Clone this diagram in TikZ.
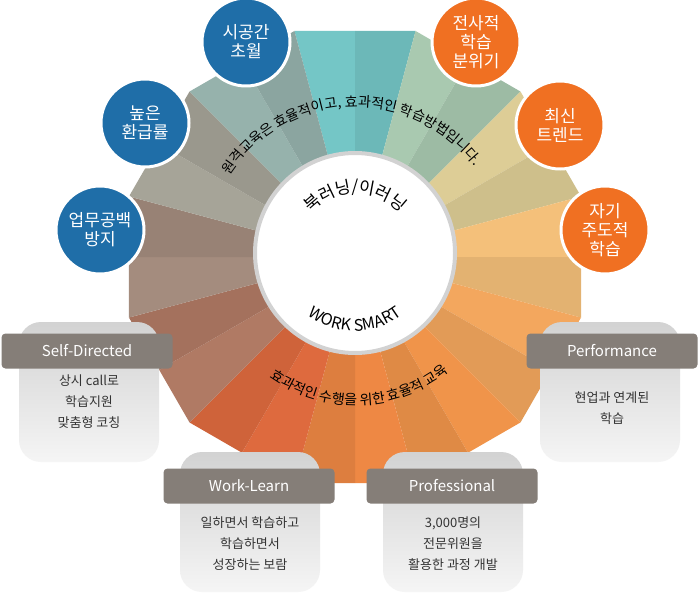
\documentclass[tikz,border=0pt]{standalone}
\usepackage{fontspec}
\setmainfont{Noto Sans CJK KR}
\usetikzlibrary{decorations.text,shadings,calc}
\definecolor{s0}{HTML}{74C6C6}
\definecolor{s1}{HTML}{A9C9B0}
\definecolor{s2}{HTML}{DDCD96}
\definecolor{s3}{HTML}{F4C07A}
\definecolor{s4}{HTML}{F3A75E}
\definecolor{s5}{HTML}{F0944A}
\definecolor{s6}{HTML}{EE8844}
\definecolor{s7}{HTML}{DE6A3E}
\definecolor{s8}{HTML}{B07A64}
\definecolor{s9}{HTML}{A48C7E}
\definecolor{s10}{HTML}{A6A498}
\definecolor{s11}{HTML}{96B2AC}
\definecolor{cblue}{HTML}{1F6EA8}
\definecolor{corange}{HTML}{F07022}
\definecolor{hdr}{HTML}{857E78}
\tikzset{
  bc/.style={circle,fill=cblue,draw=white,line width=3pt,minimum size=88pt,inner sep=0pt,align=center,text=white,font=\fontsize{17}{19}\selectfont},
  oc/.style={bc,fill=corange},
  bodybox/.style={rounded corners=22pt,top color=gray!35,bottom color=gray!8,minimum width=140pt,minimum height=140pt,draw=none},
  hbar/.style={fill=hdr,rounded corners=4pt,minimum width=171pt,minimum height=35pt,text=white,font=\fontsize{15}{15}\selectfont},
  btext/.style={align=center,text=black!80,font=\fontsize{13}{21}\selectfont},
  arctext/.style={decorate,decoration={text along path,text align=center}}
}
\begin{document}
\begin{tikzpicture}[x=1pt,y=1pt]
\useasboundingbox (0,0) rectangle (700,-593);
\fill[white] (0,0) rectangle (700,-593);
\coordinate (C) at (355,-257);
% wheel
\foreach \k in {0,...,11}{
  \pgfmathsetmacro{\a}{105-30*\k}
  \pgfmathsetmacro{\b}{75-30*\k}
  \pgfmathsetmacro{\m}{90-30*\k}
  \fill[s\k] (C) -- ++(\a:234) -- ($(C)+(\m:226)$) -- cycle;
  \fill[s\k!93!black] (C) -- ++(\b:234) -- ($(C)+(\m:226)$) -- cycle;
}
% inner circle
\node[circle,fill=white,draw=gray!35,line width=4pt,minimum size=200pt] (hub) at (355,-253) {};
% arc texts
\path[arctext,decoration={text={|\fontsize{14}{14}\selectfont|원격교육은 효율적이고{,} 효과적인 학습방법입니다.}}]
  ($(C)+(162:150)$) arc[start angle=162,end angle=22,radius=150];
\path[arctext,decoration={text={|\fontsize{14}{14}\selectfont|효과적인 수행을 위한 효율적 교육}}]
  ($(C)+(222:148)$) arc[start angle=222,end angle=322,radius=148];
\path[arctext,decoration={text={|\fontsize{17}{17}\selectfont|북러닝/이러닝}}]
  ($(hub)+(150:60)$) arc[start angle=150,end angle=30,radius=60];
\path[arctext,decoration={text={|\fontsize{16}{16}\selectfont|WORK SMART}}]
  ($(hub)+(218:78)$) arc[start angle=218,end angle=322,radius=78];
% circles
\node[bc] (c1) at (246,-42) {시공간\\초월};
\node[bc] (c2) at (145,-123) {높은\\환급률};
\node[bc] (c3) at (100,-230) {업무공백\\방지};
\node[oc] (c4) at (476,-42) {전사적\\학습\\분위기};
\node[oc] (c5) at (560,-125) {최신\\트렌드};
\node[oc] (c6) at (605,-230) {자기\\주도적\\학습};
% boxes
\node[bodybox] (b1) at (89,-392) {};
\node[hbar] (h1) at (87,-351) {Self-Directed};
\node[btext] (t1) at (89,-402) {상시 call로\\학습지원\\맞춤형 코칭};
\node[bodybox] (b2) at (610,-392) {};
\node[hbar] (h2) at (612,-351) {Performance};
\node[btext] (t2) at (612,-408) {현업과 연계된\\학습};
\node[bodybox] (b3) at (250,-522) {};
\node[hbar] (h3) at (249,-486) {Work-Learn};
\node[btext] (t3) at (250,-544) {일하면서 학습하고\\학습하면서\\성장하는 보람};
\node[bodybox] (b4) at (453,-522) {};
\node[hbar] (h4) at (452,-486) {Professional};
\node[btext] (t4) at (453,-544) {3,000명의\\전문위원을\\활용한 과정 개발};
\end{tikzpicture}
\end{document}
